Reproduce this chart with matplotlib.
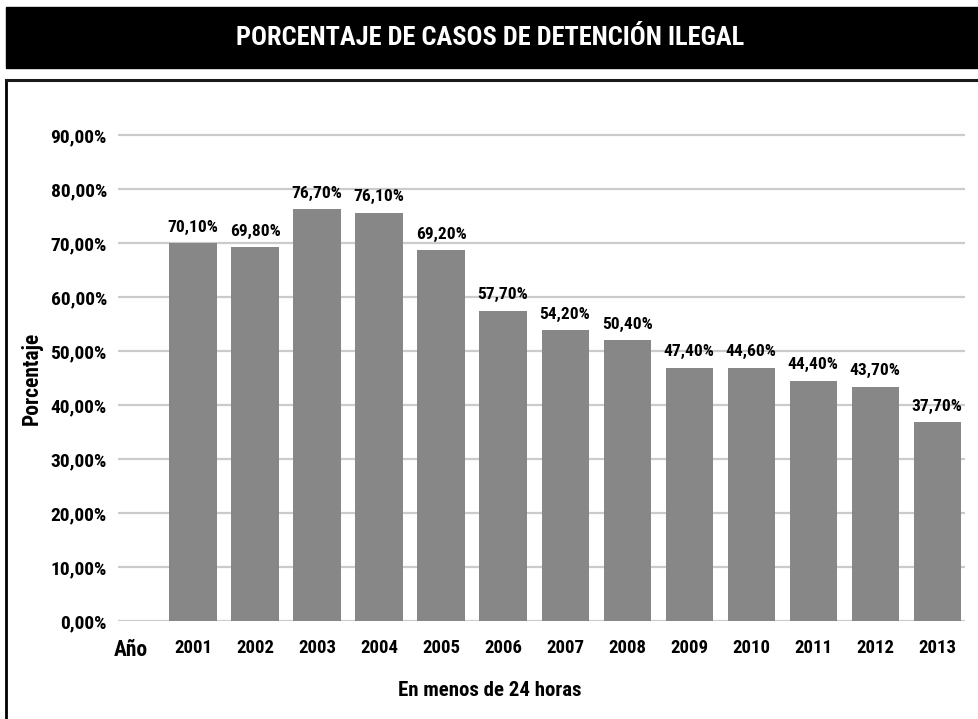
import matplotlib
matplotlib.use('Agg')
import matplotlib.pyplot as plt
from matplotlib import font_manager
from matplotlib.patches import Rectangle
from matplotlib.lines import Line2D

W, H = 979, 719

anios = ['2001', '2002', '2003', '2004', '2005', '2006', '2007',
         '2008', '2009', '2010', '2011', '2012', '2013']
# alturas de las barras
alturas = [70.0, 69.2, 76.3, 75.6, 68.7, 57.5, 53.9,
           52.0, 46.9, 46.9, 44.5, 43.4, 36.8]
# etiquetas tal como aparecen sobre las barras
etiquetas = ['70,10%', '69,80%', '76,70%', '76,10%', '69,20%', '57,70%', '54,20%',
             '50,40%', '47,40%', '44,60%', '44,40%', '43,70%', '37,70%']
yticks = [0, 10, 20, 30, 40, 50, 60, 70, 80, 90]

# buscar una fuente estrecha instalada
nombres = {f.name for f in font_manager.fontManager.ttflist}
FONT = None
for cand in ['Liberation Sans Narrow', 'DejaVu Sans Condensed', 'Roboto Condensed',
             'Open Sans Condensed', 'Noto Sans Condensed']:
    if cand in nombres:
        FONT = cand
        break
STRETCH = 'normal'
if FONT is None:
    FONT = 'DejaVu Sans'
    STRETCH = 'condensed'

plt.rcParams['font.family'] = [FONT, 'DejaVu Sans']
plt.rcParams['font.weight'] = 'bold'
plt.rcParams['font.stretch'] = STRETCH

fig = plt.figure(figsize=(W / 100, H / 100), dpi=100)

# banda negra del titulo
fig.patches.append(Rectangle((6 / W, 1 - 68 / H), 1 - 6 / W, 61 / H,
                             transform=fig.transFigure, color='black', zorder=0))
fig.text(490 / W, 1 - 38 / H, 'PORCENTAJE DE CASOS DE DETENCIÓN ILEGAL',
         color='white', fontsize=19, fontweight='bold', ha='center', va='center')

# marco (solo visible arriba e izquierda)
fig.lines.append(Line2D([6.5 / W, 6.5 / W], [0, 1 - 80 / H], transform=fig.transFigure,
                        color='black', lw=2))
fig.lines.append(Line2D([6 / W, 1], [1 - 80 / H, 1 - 80 / H], transform=fig.transFigure,
                        color='#1a1a1a', lw=2.2))

y0, ytop = 621, 621 - 91 * 5.4
ax = fig.add_axes([118 / W, (H - y0) / H, (965 - 118) / W, (y0 - ytop) / H])

x = list(range(len(anios)))
barras = ax.bar(x, alturas, width=0.76, color='#878787', zorder=3)
for b, et in zip(barras, etiquetas):
    ax.annotate(et, (b.get_x() + b.get_width() / 2, b.get_height()),
                xytext=(0, 6), textcoords='offset points',
                ha='center', va='bottom', fontsize=12.5, fontweight='bold')

ax.set_xlim(-1.21, 12.45)
ax.set_ylim(0, 91)
ax.set_yticks(yticks)
ax.set_yticklabels([f'{v},00%' for v in yticks], fontsize=14, fontweight='bold')
ax.set_xticks(x)
ax.set_xticklabels(anios, fontsize=13.5, fontweight='bold')
ax.tick_params(axis='both', length=0)
ax.tick_params(axis='y', pad=8)
ax.tick_params(axis='x', pad=13)
for v in yticks:
    ax.axhline(v, color='#cbcbcb', lw=1.6, zorder=1)
for s in ax.spines.values():
    s.set_visible(False)

ax.text(-1.0, -0.06, 'Año', transform=ax.get_xaxis_transform(),
        ha='center', va='center', fontsize=15.5, fontweight='bold')

fig.text(490 / W, 1 - 690 / H, 'En menos de 24 horas', ha='center', va='center',
         fontsize=15, fontweight='bold')
fig.text(32 / W, 1 - 378 / H, 'Porcentaje', ha='center', va='center', rotation=90,
         fontsize=15.5, fontweight='bold')

fig.savefig('out.png', dpi=100)
